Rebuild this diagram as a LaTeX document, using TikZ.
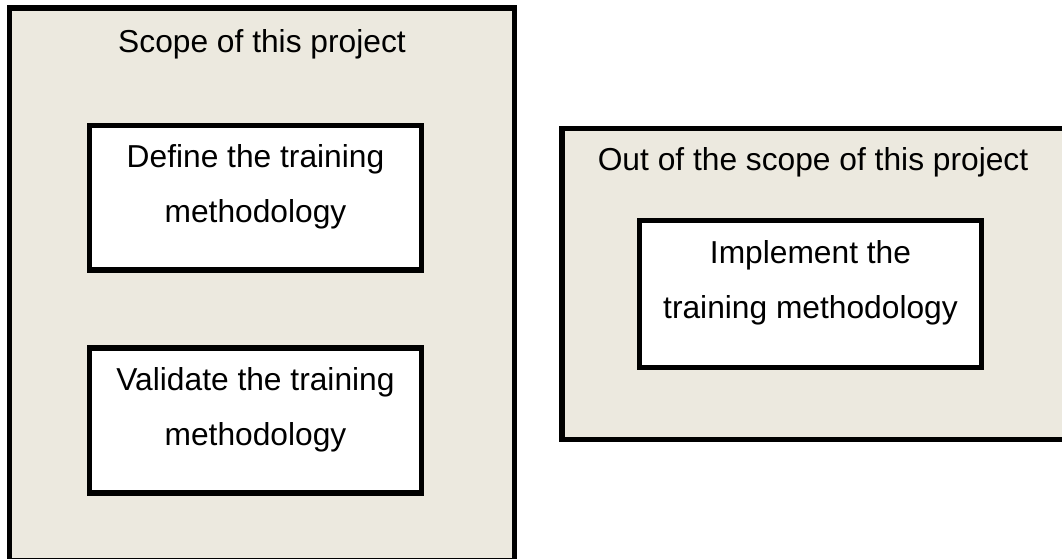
\documentclass[tikz,border=0pt]{standalone}
\usepackage{fontspec}
\setmainfont{Liberation Sans}
\usetikzlibrary{positioning}
\definecolor{scopebg}{HTML}{ECE9DF}

\tikzset{
  frame/.style={draw=black, line width=4.1pt, fill=scopebg},
  taskbox/.style={draw=black, line width=4.1pt, fill=white, rectangle, align=center,
    inner sep=0pt, text depth=21.5pt, font=\fontsize{23.8}{41.25}\selectfont},
  heading/.style={anchor=base, inner sep=0pt, font=\fontsize{23.8}{28}\selectfont}
}

\begin{document}
\begin{tikzpicture}[x=0.75pt, y=-0.75pt]
      \useasboundingbox (0,0) rectangle (1062,558);
      \clip (0,0) rectangle (1062,558);

      % in scope (runs off the bottom)
      \draw[frame] (9.5,8) rectangle (514.5,561);
      \node[heading] (scope) at (262,52) {Scope of this project};

      \node[taskbox, minimum width=332*0.75pt, minimum height=144.5*0.75pt] (define) at (255.5,197.75) {Define the training\\methodology};
      \node[taskbox, minimum width=332*0.75pt, minimum height=145*0.75pt] (validate) at (255.5,420.5) {Validate the training\\methodology};

      % out of scope (runs off the right)
      \draw[frame] (562,128.5) rectangle (1064.5,439.5);
      \node[heading] (outscope) at (813,170) {Out of the scope of this project};

      \node[taskbox, minimum width=342*0.75pt, minimum height=147*0.75pt] (implement) at (810.5,294) {Implement the\\training methodology};
\end{tikzpicture}
\end{document}
